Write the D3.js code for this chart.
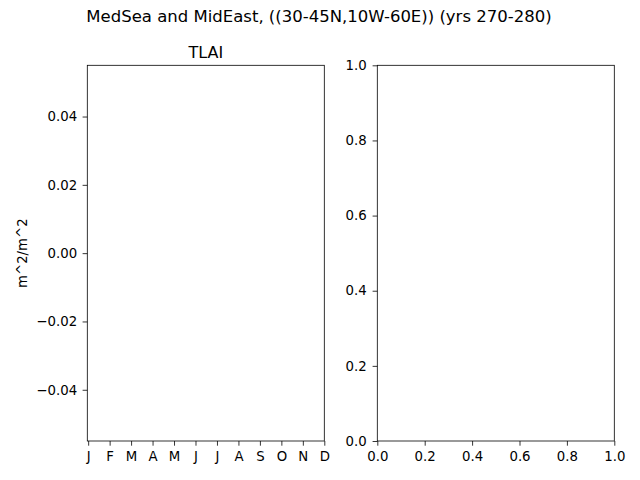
<!DOCTYPE html>
<html>
<head>
<meta charset="utf-8">
<script src="https://cdn.jsdelivr.net/npm/d3@7"></script>
<style>
  body { margin: 0; background: #fff; }
  svg { display: block; }
  text { font-family: "DejaVu Sans", sans-serif; fill: #000; }
</style>
</head>
<body>
<div id="chart"></div>
<script>
// data
const months = ["J", "F", "M", "A", "M", "J", "J", "A", "S", "O", "N", "D"];
const monthIdx = [1, 2, 3, 4, 5, 6, 7, 8, 9, 10, 11, 12];
const leftYTicks = [-0.04, -0.02, 0.00, 0.02, 0.04];
const rightTicks = [0.0, 0.2, 0.4, 0.6, 0.8, 1.0];
const tlaiValues = []; // no data in the plot

const W = 640, H = 480;
const axTop = 65.3, axBottom = 441;

const svg = d3.select("#chart").append("svg")
  .attr("width", W)
  .attr("height", H);

// suptitle
svg.append("text")
  .attr("x", 319).attr("y", 22)
  .attr("text-anchor", "middle")
  .attr("font-size", 16.5)
  .text("MedSea and MidEast, ((30-45N,10W-60E)) (yrs 270-280)");

const fmtMinus = (f) => (d) => f(d).replace("-", "\u2212");

/* left panel */
const x1 = d3.scaleLinear().domain([0.96, 12]).range([87.3, 324.3]);
const y1 = d3.scaleLinear().domain([-0.055, 0.055]).range([axBottom, axTop]);

const g1 = svg.append("g");
g1.append("g")
  .attr("transform", `translate(0,${axBottom})`)
  .call(d3.axisBottom(x1).tickValues(monthIdx).tickFormat((d, i) => months[i])
    .tickSize(4.7).tickPadding(6).tickSizeOuter(0));
g1.append("g")
  .attr("transform", `translate(87.3,0)`)
  .call(d3.axisLeft(y1).tickValues(leftYTicks).tickFormat(fmtMinus(d3.format(".2f")))
    .tickSize(4.7).tickPadding(5.5).tickSizeOuter(0));

g1.append("path")
  .datum(tlaiValues)
  .attr("fill", "none").attr("stroke", "#1f77b4")
  .attr("d", d3.line().x((d, i) => x1(monthIdx[i])).y(d => y1(d)));

g1.append("rect")
  .attr("x", 87.3).attr("y", axTop)
  .attr("width", 237).attr("height", axBottom - axTop)
  .attr("fill", "none").attr("stroke", "#000").attr("stroke-width", 0.8);

g1.append("text")
  .attr("x", (87.3 + 324.3) / 2).attr("y", 58)
  .attr("text-anchor", "middle")
  .attr("font-size", 16)
  .text("TLAI");

g1.append("text")
  .attr("transform", `translate(27,${(axTop + axBottom) / 2}) rotate(-90)`)
  .attr("text-anchor", "middle")
  .attr("font-size", 13.3)
  .text("m^2/m^2");

/* right panel */
const x2 = d3.scaleLinear().domain([0, 1]).range([377.3, 614.3]);
const y2 = d3.scaleLinear().domain([0, 1]).range([axBottom, axTop]);

const g2 = svg.append("g");
g2.append("g")
  .attr("transform", `translate(0,${axBottom})`)
  .call(d3.axisBottom(x2).tickValues(rightTicks).tickFormat(d3.format(".1f"))
    .tickSize(4.7).tickPadding(6).tickSizeOuter(0));
g2.append("g")
  .attr("transform", `translate(377.3,0)`)
  .call(d3.axisLeft(y2).tickValues(rightTicks).tickFormat(d3.format(".1f"))
    .tickSize(4.7).tickPadding(6).tickSizeOuter(0));

g2.append("rect")
  .attr("x", 377.3).attr("y", axTop)
  .attr("width", 237).attr("height", axBottom - axTop)
  .attr("fill", "none").attr("stroke", "#000").attr("stroke-width", 0.8);

// axis styling like matplotlib
svg.selectAll(".domain").remove();
svg.selectAll(".tick line").attr("stroke", "#000").attr("stroke-width", 0.8);
svg.selectAll(".tick text")
  .attr("font-family", "DejaVu Sans, sans-serif")
  .attr("font-size", 13.3)
  .attr("fill", "#000");
</script>
</body>
</html>
